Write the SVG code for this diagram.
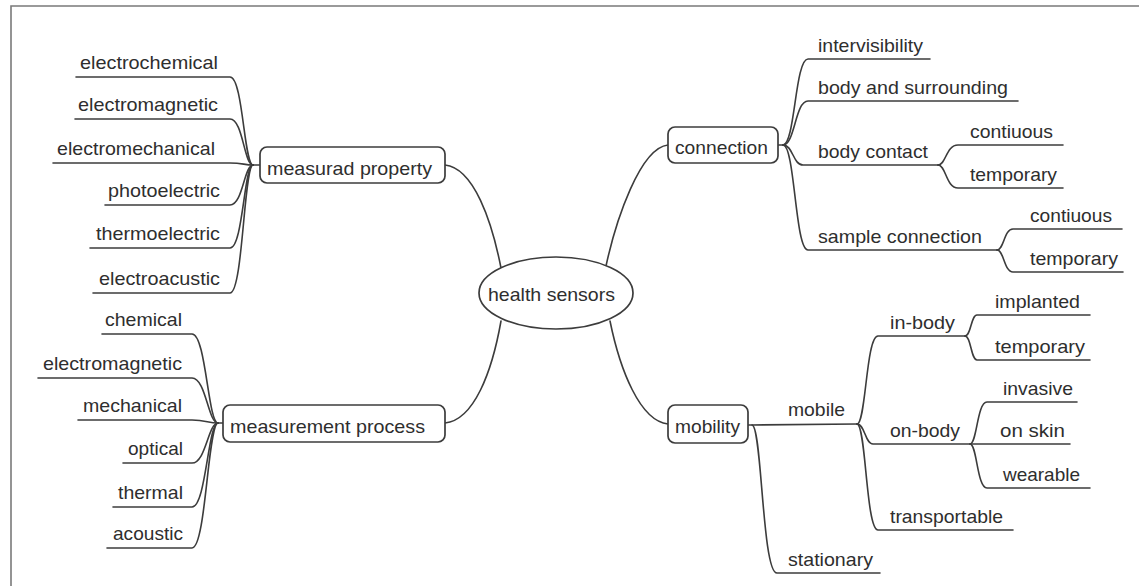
<svg xmlns="http://www.w3.org/2000/svg" width="1139" height="586" viewBox="0 0 1139 586">
<style>
.t{font-family:"Liberation Sans",Arial,sans-serif;font-size:19px;fill:#2e2e2e}
.e{fill:none;stroke:#3c3c3c;stroke-width:1.6;stroke-linecap:round}
.b{fill:#fff;stroke:#3c3c3c;stroke-width:1.7}
</style>
<rect width="1139" height="586" fill="#fff"/>
<path d="M11,586 V6 H1139" fill="none" stroke="#7a7a7a" stroke-width="1.6"/>
<g id="connectors">
<path class="e" d="M445,165 C474,168 492,222 501,268"/>
<path class="e" d="M445,423 C474,420 492,372 501,321"/>
<path class="e" d="M668,145 C640,148 616,220 606,266"/>
<path class="e" d="M668,424 C640,421 620,370 610,321"/>
<path class="e" d="M76,77 H230 C243,77 244,165 253,165"/>
<path class="e" d="M75,119 H230 C243,119 244,165 253,165"/>
<path class="e" d="M53,163 H230 C243,163 244,165 253,165"/>
<path class="e" d="M105,205 H230 C243,205 244,165 253,165"/>
<path class="e" d="M90,248 H230 C243,248 244,165 253,165"/>
<path class="e" d="M93,293 H230 C243,293 244,165 253,165"/>
<path class="e" d="M253,165 H260"/>
<path class="e" d="M102,334 H192 C206,334 208,423 218,423"/>
<path class="e" d="M38,378 H192 C206,378 208,423 218,423"/>
<path class="e" d="M78,420 H192 C206,420 208,423 218,423"/>
<path class="e" d="M123,463 H192 C206,463 208,423 218,423"/>
<path class="e" d="M113,507 H192 C206,507 208,423 218,423"/>
<path class="e" d="M107,548 H192 C206,548 208,423 218,423"/>
<path class="e" d="M218,423 H223"/>
<path class="e" d="M778,145 H783"/>
<path class="e" d="M783,145 C795,145 795,59 808,59 H930"/>
<path class="e" d="M783,145 C795,145 795,101 808,101 H1018"/>
<path class="e" d="M783,145 C793,145 793,165 803,165 H938"/>
<path class="e" d="M783,145 C795,145 795,250 808,250 H997"/>
<path class="e" d="M938,165 C946,165 946,145 958,145 H1063"/>
<path class="e" d="M938,165 C946,165 946,188 958,188 H1063"/>
<path class="e" d="M997,250 C1004,250 1004,229 1013,229 H1122"/>
<path class="e" d="M997,250 C1004,250 1004,272 1013,272 H1123"/>
<path class="e" d="M748,425 H752 L857,424"/>
<path class="e" d="M752,425 C762,425 762,573 777,573 H880"/>
<path class="e" d="M857,424 C866,424 866,336 878,336 H965"/>
<path class="e" d="M857,424 C865,424 865,444 873,444 H1070"/>
<path class="e" d="M857,424 C866,424 866,530 878,530 H1013"/>
<path class="e" d="M965,336 C971,336 971,315 977,315 H1090"/>
<path class="e" d="M965,336 C971,336 971,360 977,360 H1090"/>
<path class="e" d="M970,444 C977,444 977,402 987,402 H1077"/>
<path class="e" d="M970,444 C977,444 977,488 987,488 H1090"/>
</g>
<g id="health-sensors">
<ellipse class="b" cx="556" cy="293" rx="77" ry="36"/>
<text class="t" x="488" y="301" textLength="127" lengthAdjust="spacingAndGlyphs">health sensors</text>
</g>
<g id="measured-property">
<rect class="b" x="260" y="147" width="185" height="36" rx="7"/>
<text class="t" x="267" y="175" textLength="165" lengthAdjust="spacingAndGlyphs">measurad property</text>
</g>
<g id="measurement-process">
<rect class="b" x="223" y="405" width="222" height="37" rx="7"/>
<text class="t" x="230" y="433" textLength="195" lengthAdjust="spacingAndGlyphs">measurement process</text>
</g>
<g id="connection">
<rect class="b" x="668" y="127" width="110" height="36" rx="7"/>
<text class="t" x="675" y="154" textLength="93" lengthAdjust="spacingAndGlyphs">connection</text>
</g>
<g id="mobility">
<rect class="b" x="668" y="405" width="80" height="38" rx="7"/>
<text class="t" x="675" y="433" textLength="65" lengthAdjust="spacingAndGlyphs">mobility</text>
</g>
<g id="mp-leaves">
<text class="t" x="80" y="69" textLength="138" lengthAdjust="spacingAndGlyphs">electrochemical</text>
<text class="t" x="78" y="111" textLength="140" lengthAdjust="spacingAndGlyphs">electromagnetic</text>
<text class="t" x="57" y="155" textLength="158" lengthAdjust="spacingAndGlyphs">electromechanical</text>
<text class="t" x="108" y="197" textLength="112" lengthAdjust="spacingAndGlyphs">photoelectric</text>
<text class="t" x="96" y="240" textLength="124" lengthAdjust="spacingAndGlyphs">thermoelectric</text>
<text class="t" x="99" y="285" textLength="121" lengthAdjust="spacingAndGlyphs">electroacustic</text>
</g>
<g id="mproc-leaves">
<text class="t" x="105" y="326" textLength="77" lengthAdjust="spacingAndGlyphs">chemical</text>
<text class="t" x="43" y="370" textLength="139" lengthAdjust="spacingAndGlyphs">electromagnetic</text>
<text class="t" x="83" y="412" textLength="99" lengthAdjust="spacingAndGlyphs">mechanical</text>
<text class="t" x="128" y="455" textLength="55" lengthAdjust="spacingAndGlyphs">optical</text>
<text class="t" x="118" y="499" textLength="65" lengthAdjust="spacingAndGlyphs">thermal</text>
<text class="t" x="113" y="540" textLength="70" lengthAdjust="spacingAndGlyphs">acoustic</text>
</g>
<g id="connection-leaves">
<text class="t" x="818" y="52" textLength="105" lengthAdjust="spacingAndGlyphs">intervisibility</text>
<text class="t" x="818" y="94" textLength="190" lengthAdjust="spacingAndGlyphs">body and surrounding</text>
<text class="t" x="818" y="158" textLength="110" lengthAdjust="spacingAndGlyphs">body contact</text>
<text class="t" x="970" y="138" textLength="83" lengthAdjust="spacingAndGlyphs">contiuous</text>
<text class="t" x="970" y="181" textLength="87" lengthAdjust="spacingAndGlyphs">temporary</text>
<text class="t" x="818" y="243" textLength="164" lengthAdjust="spacingAndGlyphs">sample connection</text>
<text class="t" x="1030" y="222" textLength="82" lengthAdjust="spacingAndGlyphs">contiuous</text>
<text class="t" x="1030" y="265" textLength="88" lengthAdjust="spacingAndGlyphs">temporary</text>
</g>
<g id="mobility-leaves">
<text class="t" x="788" y="416" textLength="57" lengthAdjust="spacingAndGlyphs">mobile</text>
<text class="t" x="890" y="329" textLength="65" lengthAdjust="spacingAndGlyphs">in-body</text>
<text class="t" x="995" y="308" textLength="85" lengthAdjust="spacingAndGlyphs">implanted</text>
<text class="t" x="995" y="353" textLength="90" lengthAdjust="spacingAndGlyphs">temporary</text>
<text class="t" x="890" y="437" textLength="70" lengthAdjust="spacingAndGlyphs">on-body</text>
<text class="t" x="1003" y="395" textLength="70" lengthAdjust="spacingAndGlyphs">invasive</text>
<text class="t" x="1000" y="437" textLength="65" lengthAdjust="spacingAndGlyphs">on skin</text>
<text class="t" x="1003" y="481" textLength="77" lengthAdjust="spacingAndGlyphs">wearable</text>
<text class="t" x="890" y="523" textLength="113" lengthAdjust="spacingAndGlyphs">transportable</text>
<text class="t" x="788" y="566" textLength="85" lengthAdjust="spacingAndGlyphs">stationary</text>
</g>
</svg>
